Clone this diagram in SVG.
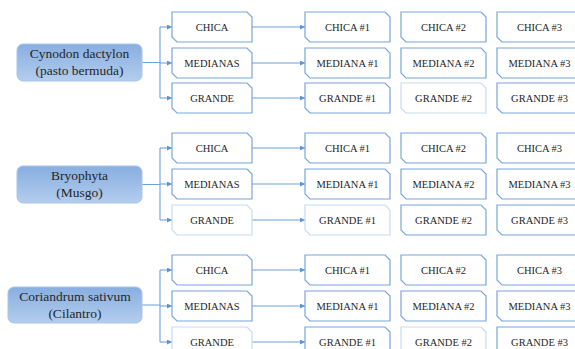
<svg xmlns="http://www.w3.org/2000/svg" width="575" height="349" viewBox="0 0 575 349">
<defs>
<linearGradient id="lg" x1="0" y1="0" x2="0" y2="1">
<stop offset="0" stop-color="#88AEE0"/>
<stop offset="1" stop-color="#B3CDEE"/>
</linearGradient>
<marker id="ar" viewBox="0 0 6 6" refX="6" refY="3" markerWidth="5" markerHeight="5" orient="auto" markerUnits="userSpaceOnUse">
<path d="M0,0 L6,3 L0,6 Z" fill="#5B95D6"/>
</marker>
<path id="b80" d="M0,0 H75 L80,5 V30 H5 L0,25 Z"/>
<path id="b85" d="M0,0 H80 L85,5 V30 H5 L0,25 Z"/>
</defs>
<style>
.bx{fill:#fff;stroke:#78A6DD;stroke-width:1.2}
.fa{fill:#fff;stroke:#C8DBF2;stroke-width:1.2}
.sp{fill:url(#lg);stroke:#A9C5EA;stroke-width:1}
.t{font-family:"Liberation Serif","Times New Roman",serif;font-size:10.5px;fill:#262626;text-anchor:middle}
.tl{font-family:"Liberation Serif","Times New Roman",serif;font-size:13.5px;fill:#262626;text-anchor:middle}
.c{fill:none;stroke:#6FA0DC;stroke-width:1.1}
</style>
<g id="connectors">
<path class="c" d="M142,62.5 H160 M160,27 V98"/>
<path class="c" d="M160,27 H172" marker-end="url(#ar)"/>
<path class="c" d="M160,63 H172" marker-end="url(#ar)"/>
<path class="c" d="M160,98 H172" marker-end="url(#ar)"/>
<path class="c" d="M252,27 H305" marker-end="url(#ar)"/>
<path class="c" d="M252,63 H305" marker-end="url(#ar)"/>
<path class="c" d="M252,98 H305" marker-end="url(#ar)"/>
<path class="c" d="M142,184.5 H160 M160,148 V220"/>
<path class="c" d="M160,148 H172" marker-end="url(#ar)"/>
<path class="c" d="M160,184 H172" marker-end="url(#ar)"/>
<path class="c" d="M160,220 H172" marker-end="url(#ar)"/>
<path class="c" d="M252,148 H305" marker-end="url(#ar)"/>
<path class="c" d="M252,184 H305" marker-end="url(#ar)"/>
<path class="c" d="M252,220 H305" marker-end="url(#ar)"/>
<path class="c" d="M142,305 H160 M160,270 V342"/>
<path class="c" d="M160,270 H172" marker-end="url(#ar)"/>
<path class="c" d="M160,306 H172" marker-end="url(#ar)"/>
<path class="c" d="M160,342 H172" marker-end="url(#ar)"/>
<path class="c" d="M252,270 H305" marker-end="url(#ar)"/>
<path class="c" d="M252,306 H305" marker-end="url(#ar)"/>
<path class="c" d="M252,342 H305" marker-end="url(#ar)"/>
</g>
<g id="cynodon"><rect class="sp" x="17" y="44" width="125" height="37" rx="6"/><text class="tl" x="79.5" y="58">Cynodon dactylon</text><text class="tl" x="79.5" y="75">(pasto bermuda)</text></g>
<g id="bryophyta"><rect class="sp" x="17" y="166" width="125" height="37" rx="6"/><text class="tl" x="79.5" y="180">Bryophyta</text><text class="tl" x="79.5" y="197">(Musgo)</text></g>
<g id="coriandrum"><rect class="sp" x="8" y="287" width="134" height="36" rx="6"/><text class="tl" x="75" y="301">Coriandrum sativum</text><text class="tl" x="75" y="318">(Cilantro)</text></g>

<g id="g1-chica"><use href="#b80" class="bx" x="172" y="12"/><text class="t" x="212" y="31">CHICA</text></g>
<g id="g1-medianas"><use href="#b80" class="bx" x="172" y="48"/><text class="t" x="212" y="67">MEDIANAS</text></g>
<g id="g1-grande"><use href="#b80" class="bx" x="172" y="83"/><text class="t" x="212" y="102">GRANDE</text></g>
<g id="g1-chica1"><use href="#b85" class="bx" x="305" y="12"/><text class="t" x="347.5" y="31">CHICA #1</text></g>
<g id="g1-chica2"><use href="#b85" class="bx" x="401" y="12"/><text class="t" x="443.5" y="31">CHICA #2</text></g>
<g id="g1-chica3"><use href="#b85" class="bx" x="497" y="12"/><text class="t" x="539.5" y="31">CHICA #3</text></g>
<g id="g1-med1"><use href="#b85" class="bx" x="305" y="48"/><text class="t" x="347.5" y="67">MEDIANA #1</text></g>
<g id="g1-med2"><use href="#b85" class="bx" x="401" y="48"/><text class="t" x="443.5" y="67">MEDIANA #2</text></g>
<g id="g1-med3"><use href="#b85" class="bx" x="497" y="48"/><text class="t" x="539.5" y="67">MEDIANA #3</text></g>
<g id="g1-gr1"><use href="#b85" class="bx" x="305" y="83"/><text class="t" x="347.5" y="102">GRANDE #1</text></g>
<g id="g1-gr2"><use href="#b85" class="fa" x="401" y="83"/><text class="t" x="443.5" y="102">GRANDE #2</text></g>
<g id="g1-gr3"><use href="#b85" class="bx" x="497" y="83"/><text class="t" x="539.5" y="102">GRANDE #3</text></g>

<g id="g2-chica"><use href="#b80" class="bx" x="172" y="133"/><text class="t" x="212" y="152">CHICA</text></g>
<g id="g2-medianas"><use href="#b80" class="bx" x="172" y="169"/><text class="t" x="212" y="188">MEDIANAS</text></g>
<g id="g2-grande"><use href="#b80" class="fa" x="172" y="205"/><text class="t" x="212" y="224">GRANDE</text></g>
<g id="g2-chica1"><use href="#b85" class="bx" x="305" y="133"/><text class="t" x="347.5" y="152">CHICA #1</text></g>
<g id="g2-chica2"><use href="#b85" class="bx" x="401" y="133"/><text class="t" x="443.5" y="152">CHICA #2</text></g>
<g id="g2-chica3"><use href="#b85" class="bx" x="497" y="133"/><text class="t" x="539.5" y="152">CHICA #3</text></g>
<g id="g2-med1"><use href="#b85" class="bx" x="305" y="169"/><text class="t" x="347.5" y="188">MEDIANA #1</text></g>
<g id="g2-med2"><use href="#b85" class="bx" x="401" y="169"/><text class="t" x="443.5" y="188">MEDIANA #2</text></g>
<g id="g2-med3"><use href="#b85" class="bx" x="497" y="169"/><text class="t" x="539.5" y="188">MEDIANA #3</text></g>
<g id="g2-gr1"><use href="#b85" class="fa" x="305" y="205"/><text class="t" x="347.5" y="224">GRANDE #1</text></g>
<g id="g2-gr2"><use href="#b85" class="bx" x="401" y="205"/><text class="t" x="443.5" y="224">GRANDE #2</text></g>
<g id="g2-gr3"><use href="#b85" class="bx" x="497" y="205"/><text class="t" x="539.5" y="224">GRANDE #3</text></g>

<g id="g3-chica"><use href="#b80" class="bx" x="172" y="255"/><text class="t" x="212" y="274">CHICA</text></g>
<g id="g3-medianas"><use href="#b80" class="bx" x="172" y="291"/><text class="t" x="212" y="310">MEDIANAS</text></g>
<g id="g3-grande"><use href="#b80" class="fa" x="172" y="327"/><text class="t" x="212" y="346">GRANDE</text></g>
<g id="g3-chica1"><use href="#b85" class="bx" x="305" y="255"/><text class="t" x="347.5" y="274">CHICA #1</text></g>
<g id="g3-chica2"><use href="#b85" class="bx" x="401" y="255"/><text class="t" x="443.5" y="274">CHICA #2</text></g>
<g id="g3-chica3"><use href="#b85" class="bx" x="497" y="255"/><text class="t" x="539.5" y="274">CHICA #3</text></g>
<g id="g3-med1"><use href="#b85" class="bx" x="305" y="291"/><text class="t" x="347.5" y="310">MEDIANA #1</text></g>
<g id="g3-med2"><use href="#b85" class="bx" x="401" y="291"/><text class="t" x="443.5" y="310">MEDIANA #2</text></g>
<g id="g3-med3"><use href="#b85" class="bx" x="497" y="291"/><text class="t" x="539.5" y="310">MEDIANA #3</text></g>
<g id="g3-gr1"><use href="#b85" class="bx" x="305" y="327"/><text class="t" x="347.5" y="346">GRANDE #1</text></g>
<g id="g3-gr2"><use href="#b85" class="fa" x="401" y="327"/><text class="t" x="443.5" y="346">GRANDE #2</text></g>
<g id="g3-gr3"><use href="#b85" class="bx" x="497" y="327"/><text class="t" x="539.5" y="346">GRANDE #3</text></g>
</svg>
